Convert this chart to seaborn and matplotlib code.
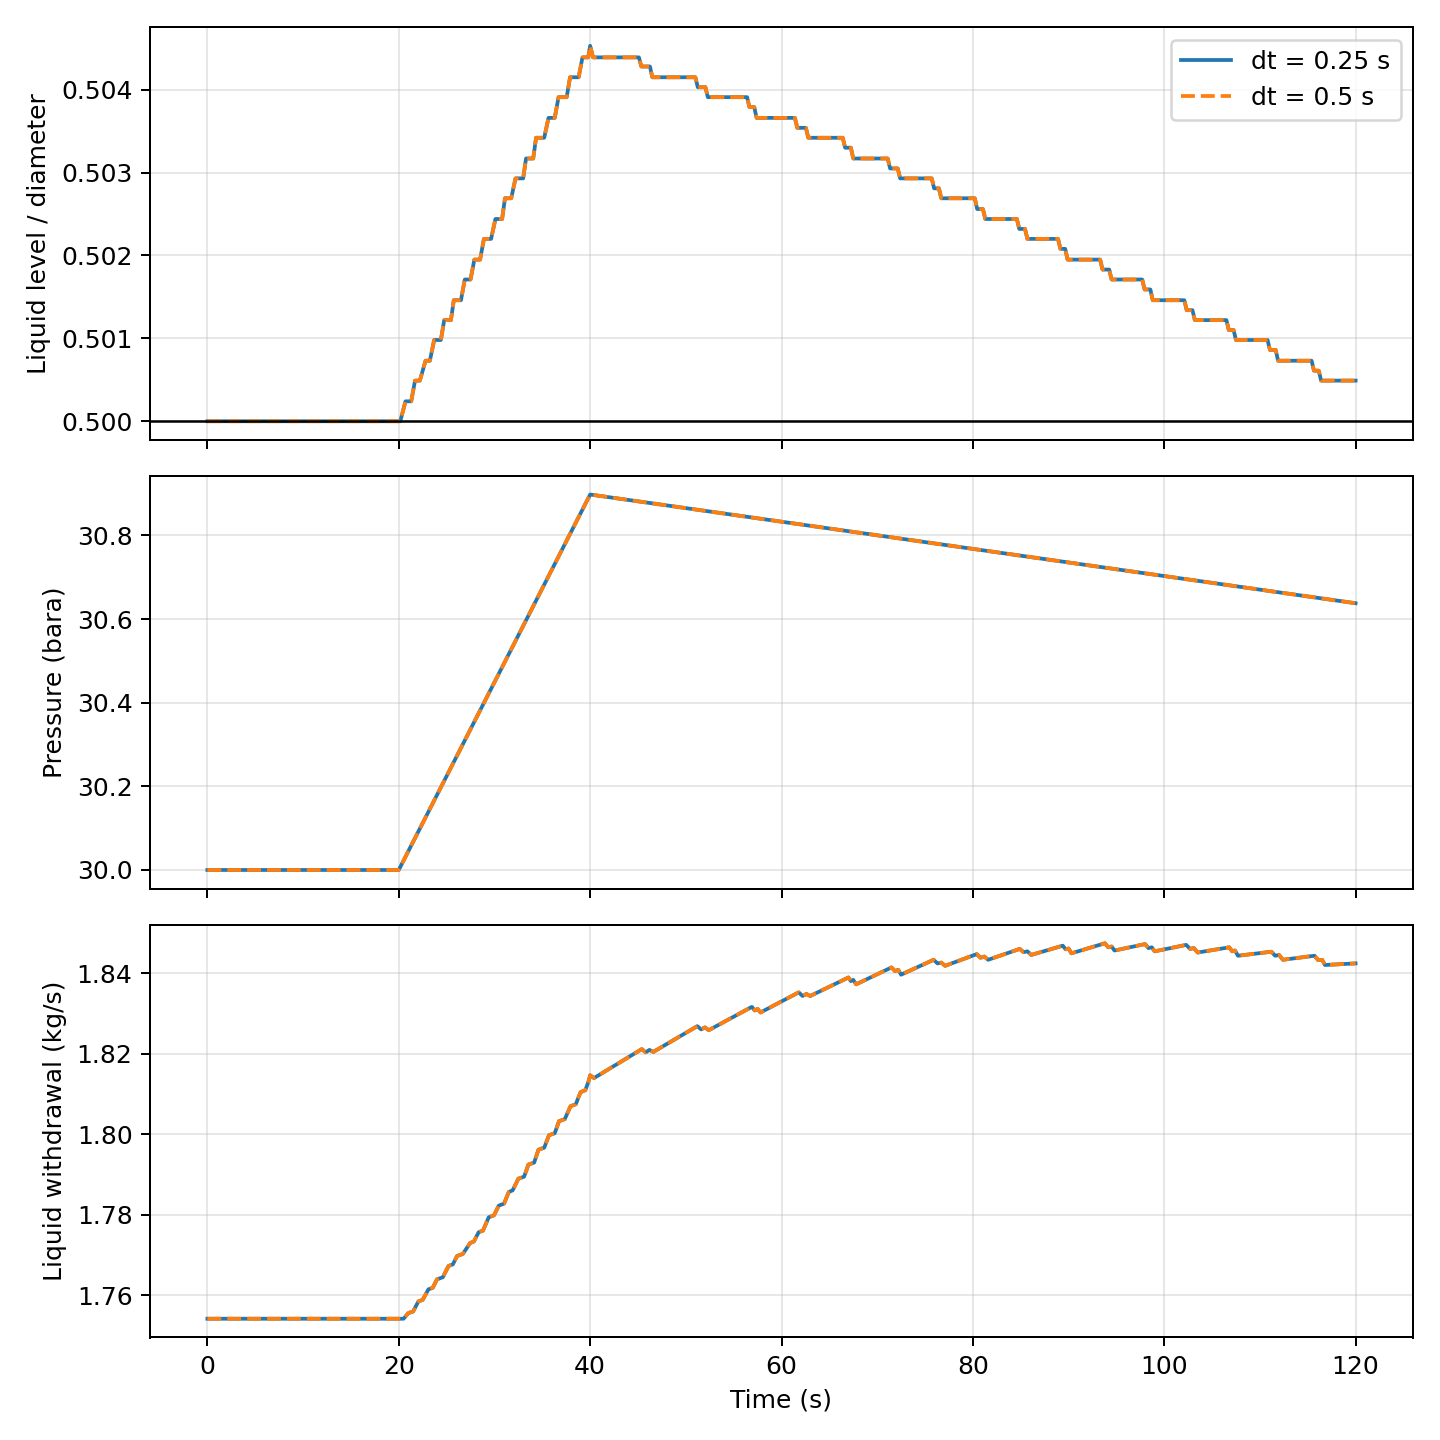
import numpy as np
import pandas as pd
import matplotlib
matplotlib.use("Agg")
import matplotlib.pyplot as plt
import seaborn as sns

# Values
labels = ["dt = 0.25 s", "dt = 0.5 s"]
colors = ["#1f77b4", "#ff7f0e"]

# --- liquid level / diameter: filling (20-40 s) stair plateaus
level_start = 0.5
rise_begin = 20.16
rise_plateau_start = [20.7, 21.7, 22.8, 23.7, 24.75, 25.75, 26.9, 27.9, 28.9,
                      30.1, 31.1, 32.2, 33.3, 34.35, 35.65, 36.7, 37.9, 39.2]
rise_plateau_end = [21.3, 22.2, 23.25, 24.4, 25.45, 26.5, 27.5, 28.5, 29.65,
                    30.8, 31.75, 33.0, 34.05, 35.2, 36.3, 37.55, 38.8, 39.8]
rise_levels = [0.50024, 0.50049, 0.50073, 0.50098, 0.50122, 0.50146, 0.50171,
               0.50195, 0.50220, 0.50244, 0.50269, 0.50293, 0.50317, 0.50342,
               0.50366, 0.50391, 0.50415, 0.50439]
peak_time = 40.0
peak_level = 0.50453

# --- draining (40-120 s) stair plateaus with a half step in between
fall_levels = [0.50439, 0.50415, 0.50391, 0.50366, 0.50342, 0.50317, 0.50293,
               0.50269, 0.50244, 0.50220, 0.50195, 0.50171, 0.50146, 0.50122,
               0.50098, 0.50073, 0.50049]
fall_mid_levels = [0.50428, 0.50403, 0.50379, 0.50354, 0.50330, 0.50305,
                   0.50281, 0.50256, 0.50232, 0.50208, 0.50183, 0.50159,
                   0.50134, 0.50110, 0.50086, 0.50061]
fall_plateau_end = [45.1, 51.0, 56.4, 61.4, 66.4, 71.1, 75.7, 80.2, 84.6,
                    88.9, 93.3, 97.7, 102.1, 106.5, 110.8, 115.4]
fall_plateau_start = [46.5, 52.3, 57.4, 62.8, 67.5, 72.4, 76.7, 81.3, 85.7,
                      89.9, 94.5, 98.8, 103.2, 107.5, 111.9, 116.4]
t_end = 120.0
dt_small = 0.25

# --- pressure (bara)
p_time = [0, 20, 40, 120]
p_value = [30.0, 30.0, 30.898, 30.638]

# --- liquid withdrawal (kg/s)
w_initial = 1.7542
w_rise_t0 = [21.0, 22.05, 23.1, 24.0, 25.2, 26.1, 27.45, 28.35, 29.4, 30.45,
             31.5, 32.5, 33.55, 34.6, 35.7, 36.75, 37.95, 39.0]
w_rise_w0 = [1.7556, 1.7585, 1.7615, 1.7640, 1.7673, 1.7698, 1.7730, 1.7757,
             1.7794, 1.7823, 1.7857, 1.7890, 1.7925, 1.7962, 1.7998, 1.8033,
             1.8070, 1.8105]
w_rise_t1 = [21.5, 22.5, 23.55, 24.6, 25.65, 26.7, 27.85, 28.8, 29.95, 31.0,
             31.9, 33.1, 34.15, 35.2, 36.3, 37.35, 38.5, 39.5]
w_rise_w1 = [1.7560, 1.7589, 1.7619, 1.7645, 1.7677, 1.7703, 1.7734, 1.7761,
             1.7799, 1.7828, 1.7861, 1.7895, 1.7930, 1.7967, 1.8003, 1.8038,
             1.8075, 1.8110]
w_top_t = [39.85, 40.0, 40.4]
w_top = [1.8133, 1.8147, 1.8140]

w_peak_t = [45.4, 51.2, 56.9, 61.8, 67.0, 71.5, 75.9, 80.4, 84.9, 89.4, 93.8,
            98.0, 102.3, 106.8, 111.2, 115.7]
w_peak = [1.8212, 1.8269, 1.8317, 1.8353, 1.8390, 1.8415, 1.8434, 1.8448,
          1.8461, 1.8469, 1.8475, 1.8473, 1.8471, 1.8465, 1.8454, 1.8444]
w_dip_t = [45.8, 51.6, 57.2, 62.2, 67.25, 71.85, 76.3, 80.8, 85.3, 89.7,
           94.15, 98.35, 102.7, 107.1, 111.6, 116.1]
w_dip = [1.8204, 1.8261, 1.8308, 1.8344, 1.8381, 1.8406, 1.8425, 1.8439,
         1.8453, 1.8460, 1.8465, 1.8463, 1.8461, 1.8455, 1.8444, 1.8433]
w_bump_t = [46.2, 52.0, 57.5, 62.6, 67.5, 72.2, 76.7, 81.2, 85.7, 90.0, 94.5,
            98.7, 103.1, 107.4, 112.0, 116.5]
w_bump = [1.8210, 1.8266, 1.8312, 1.8349, 1.8384, 1.8409, 1.8427, 1.8442,
          1.8455, 1.8462, 1.8467, 1.8465, 1.8463, 1.8457, 1.8446, 1.8434]
w_trough_t = [46.6, 52.4, 57.8, 63.0, 67.8, 72.5, 77.1, 81.6, 86.1, 90.3,
              94.8, 99.0, 103.5, 107.7, 112.4, 116.8]
w_trough = [1.8205, 1.8259, 1.8303, 1.8344, 1.8373, 1.8397, 1.8419, 1.8434,
            1.8446, 1.8450, 1.8457, 1.8455, 1.8452, 1.8444, 1.8434, 1.8421]
w_final = 1.8425


def level_curve():
    t = [0.0, rise_begin]
    v = [level_start, level_start]
    for s, e, lv in zip(rise_plateau_start, rise_plateau_end, rise_levels):
        t += [s, e]
        v += [lv, lv]
    t += [peak_time, peak_time + 0.3]
    v += [peak_level, fall_levels[0]]
    for k in range(len(fall_plateau_end)):
        e = fall_plateau_end[k]
        s = fall_plateau_start[k]
        t += [e, e + dt_small, s - dt_small, s]
        v += [fall_levels[k], fall_mid_levels[k], fall_mid_levels[k],
              fall_levels[k + 1]]
    t.append(t_end)
    v.append(fall_levels[-1])
    return t, v


def withdrawal_curve():
    t = [0.0, 20.2, 20.5]
    v = [w_initial, w_initial, w_initial]
    for a, b, c, d in zip(w_rise_t0, w_rise_w0, w_rise_t1, w_rise_w1):
        t += [a, c]
        v += [b, d]
    t += w_top_t
    v += w_top
    for k in range(len(w_peak_t)):
        t += [w_peak_t[k], w_dip_t[k], w_bump_t[k], w_trough_t[k]]
        v += [w_peak[k], w_dip[k], w_bump[k], w_trough[k]]
    t.append(t_end)
    v.append(w_final)
    return t, v


def long_form(t, v):
    frames = []
    for lab in labels:
        frames.append(pd.DataFrame({"time": t, "value": v, "run": lab}))
    return pd.concat(frames, ignore_index=True)


lt, lv = level_curve()
wt, wv = withdrawal_curve()
level_df = long_form(lt, lv)
pres_df = long_form(p_time, p_value)
with_df = long_form(wt, wv)

fig, axes = plt.subplots(3, 1, figsize=(8, 8), dpi=180, sharex=True)

panels = [
    (level_df, "Liquid level / diameter"),
    (pres_df, "Pressure (bara)"),
    (with_df, "Liquid withdrawal (kg/s)"),
]
dash_map = {labels[0]: "", labels[1]: (3.7, 1.6)}

for i, (df, ylab) in enumerate(panels):
    ax = axes[i]
    sns.lineplot(data=df, x="time", y="value", hue="run", style="run",
                 hue_order=labels, style_order=labels, palette=colors,
                 dashes=dash_map, estimator=None, sort=False, lw=1.5,
                 legend=(i == 0), ax=ax)
    ax.set_ylabel(ylab)
    ax.set_xlabel("")
    ax.grid(True, alpha=0.3)

axes[0].axhline(0.5, color="k", lw=1)
axes[0].legend(loc="upper right")
axes[2].set_xlabel("Time (s)")

plt.tight_layout()
plt.savefig("out.png")
